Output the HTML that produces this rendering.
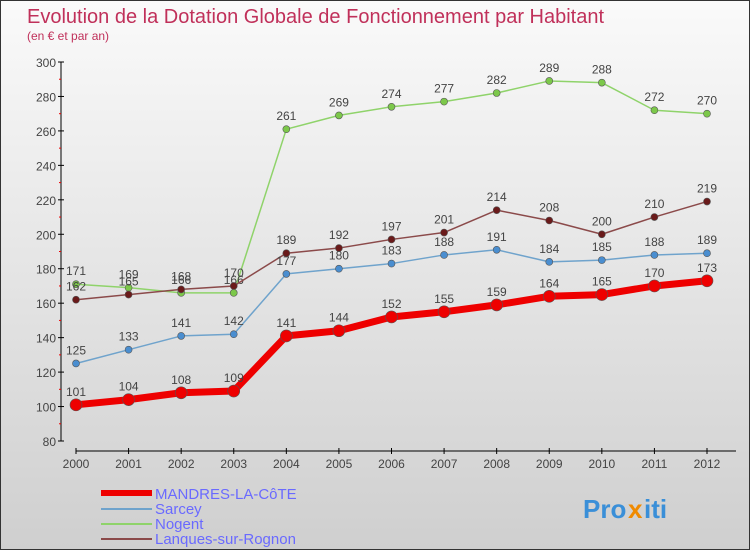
<!DOCTYPE html>
<html><head><meta charset="utf-8"><style>
body{margin:0}
#c{width:750px;height:550px;position:relative;box-sizing:border-box;border:1px solid #333;background:linear-gradient(#fafafa,#cfcfcf);font-family:"Liberation Sans",sans-serif;overflow:hidden}
</style></head><body>
<div id="c">
<svg id="s" width="750" height="550" style="position:absolute;left:0;top:0">
<text x="26" y="22" font-size="20" fill="#c0305a">Evolution de la Dotation Globale de Fonctionnement par Habitant</text>
<text x="26" y="39" font-size="12" fill="#c0305a">(en € et par an)</text>
<g id="axes"></g><g id="series"></g>
<g>
<line x1="100" y1="492" x2="151" y2="492" stroke="#e00" stroke-width="6"/>
<line x1="100" y1="508" x2="151" y2="508" stroke="#6fa3cc" stroke-width="2"/>
<line x1="100" y1="523" x2="151" y2="523" stroke="#8fd36a" stroke-width="2"/>
<line x1="100" y1="538" x2="151" y2="538" stroke="#8b4a4a" stroke-width="2"/>
<g font-size="15" fill="#6a6aff">
<text x="154" y="498">MANDRES-LA-CôTE</text>
<text x="154" y="513">Sarcey</text>
<text x="154" y="528">Nogent</text>
<text x="154" y="543">Lanques-sur-Rognon</text>
</g></g>
<g font-size="26" font-weight="bold">
<text x="582" y="517" fill="#3a8fd8">Pro</text><text x="627" y="517" fill="#f08a00">x</text><text x="643" y="517" fill="#3a8fd8">iti</text>
</g>
</svg>
</div>
<script>
const years=[2000,2001,2002,2003,2004,2005,2006,2007,2008,2009,2010,2011,2012];
const yTicks=[80,100,120,140,160,180,200,220,240,260,280,300];
const mandres=[101,104,108,109,141,144,152,155,159,164,165,170,173];
const sarcey=[125,133,141,142,177,180,183,188,191,184,185,188,189];
const nogent=[171,169,166,166,261,269,274,277,282,289,288,272,270];
const lanques=[162,165,168,170,189,192,197,201,214,208,200,210,219];
const NS="http://www.w3.org/2000/svg";
function X(i){return 75+i*(706-75)/12;}
function Y(v){return 440-(v-80)*(440-61)/220;}
function mk(t,a,p){const e=document.createElementNS(NS,t);for(const k in a)e.setAttribute(k,a[k]);p.appendChild(e);return e;}
const ax=document.getElementById('axes');
mk('line',{x1:60,y1:Y(300),x2:60,y2:Y(80),stroke:'#000'},ax);
mk('line',{x1:75,y1:450,x2:735,y2:450,stroke:'#000'},ax);
yTicks.forEach(v=>{
 mk('line',{x1:57,y1:Y(v),x2:63,y2:Y(v),stroke:'#000'},ax);
 if(v<300) mk('line',{x1:58,y1:Y(v+10),x2:60,y2:Y(v+10),stroke:'#e00'},ax);
 const t=mk('text',{x:55,y:Y(v)+5,'text-anchor':'end','font-size':12,fill:'#444'},ax);
 t.textContent=v;
 
 
});
years.forEach((y,i)=>{
 mk('line',{x1:X(i),y1:447,x2:X(i),y2:453,stroke:'#000'},ax);
 const t=mk('text',{x:X(i),y:467,'text-anchor':'middle','font-size':12,fill:'#444'},ax);
 t.textContent=y;
 
 
});
const sg=document.getElementById('series');
function draw(d,col,w,r,fill,name){
 const g=mk('g',{},sg);
 
 
 mk('polyline',{points:d.map((v,i)=>X(i)+','+Y(v)).join(' '),fill:'none',stroke:col,'stroke-width':w,'stroke-linejoin':'round'},g);
 d.forEach((v,i)=>{
  const c=mk('circle',{cx:X(i),cy:Y(v),r:r,fill:fill,stroke:'#555','stroke-width':0.6},g);
  
  
  const t=mk('text',{x:X(i),y:Y(v)-9,'text-anchor':'middle','font-size':12,fill:'#444'},g);
  t.textContent=v;
  
  
 });
}
draw(nogent,'#8fd36a',1.5,3.5,'#7cc84a','series-nogent');
draw(lanques,'#8b4a4a',1.5,3.5,'#6a1a1a','series-lanques');
draw(sarcey,'#6fa3cc',1.5,3.5,'#4a8ed0','series-sarcey');
draw(mandres,'#ee0000',7,6,'#ee0000','series-mandres');
</script>
</body></html>
